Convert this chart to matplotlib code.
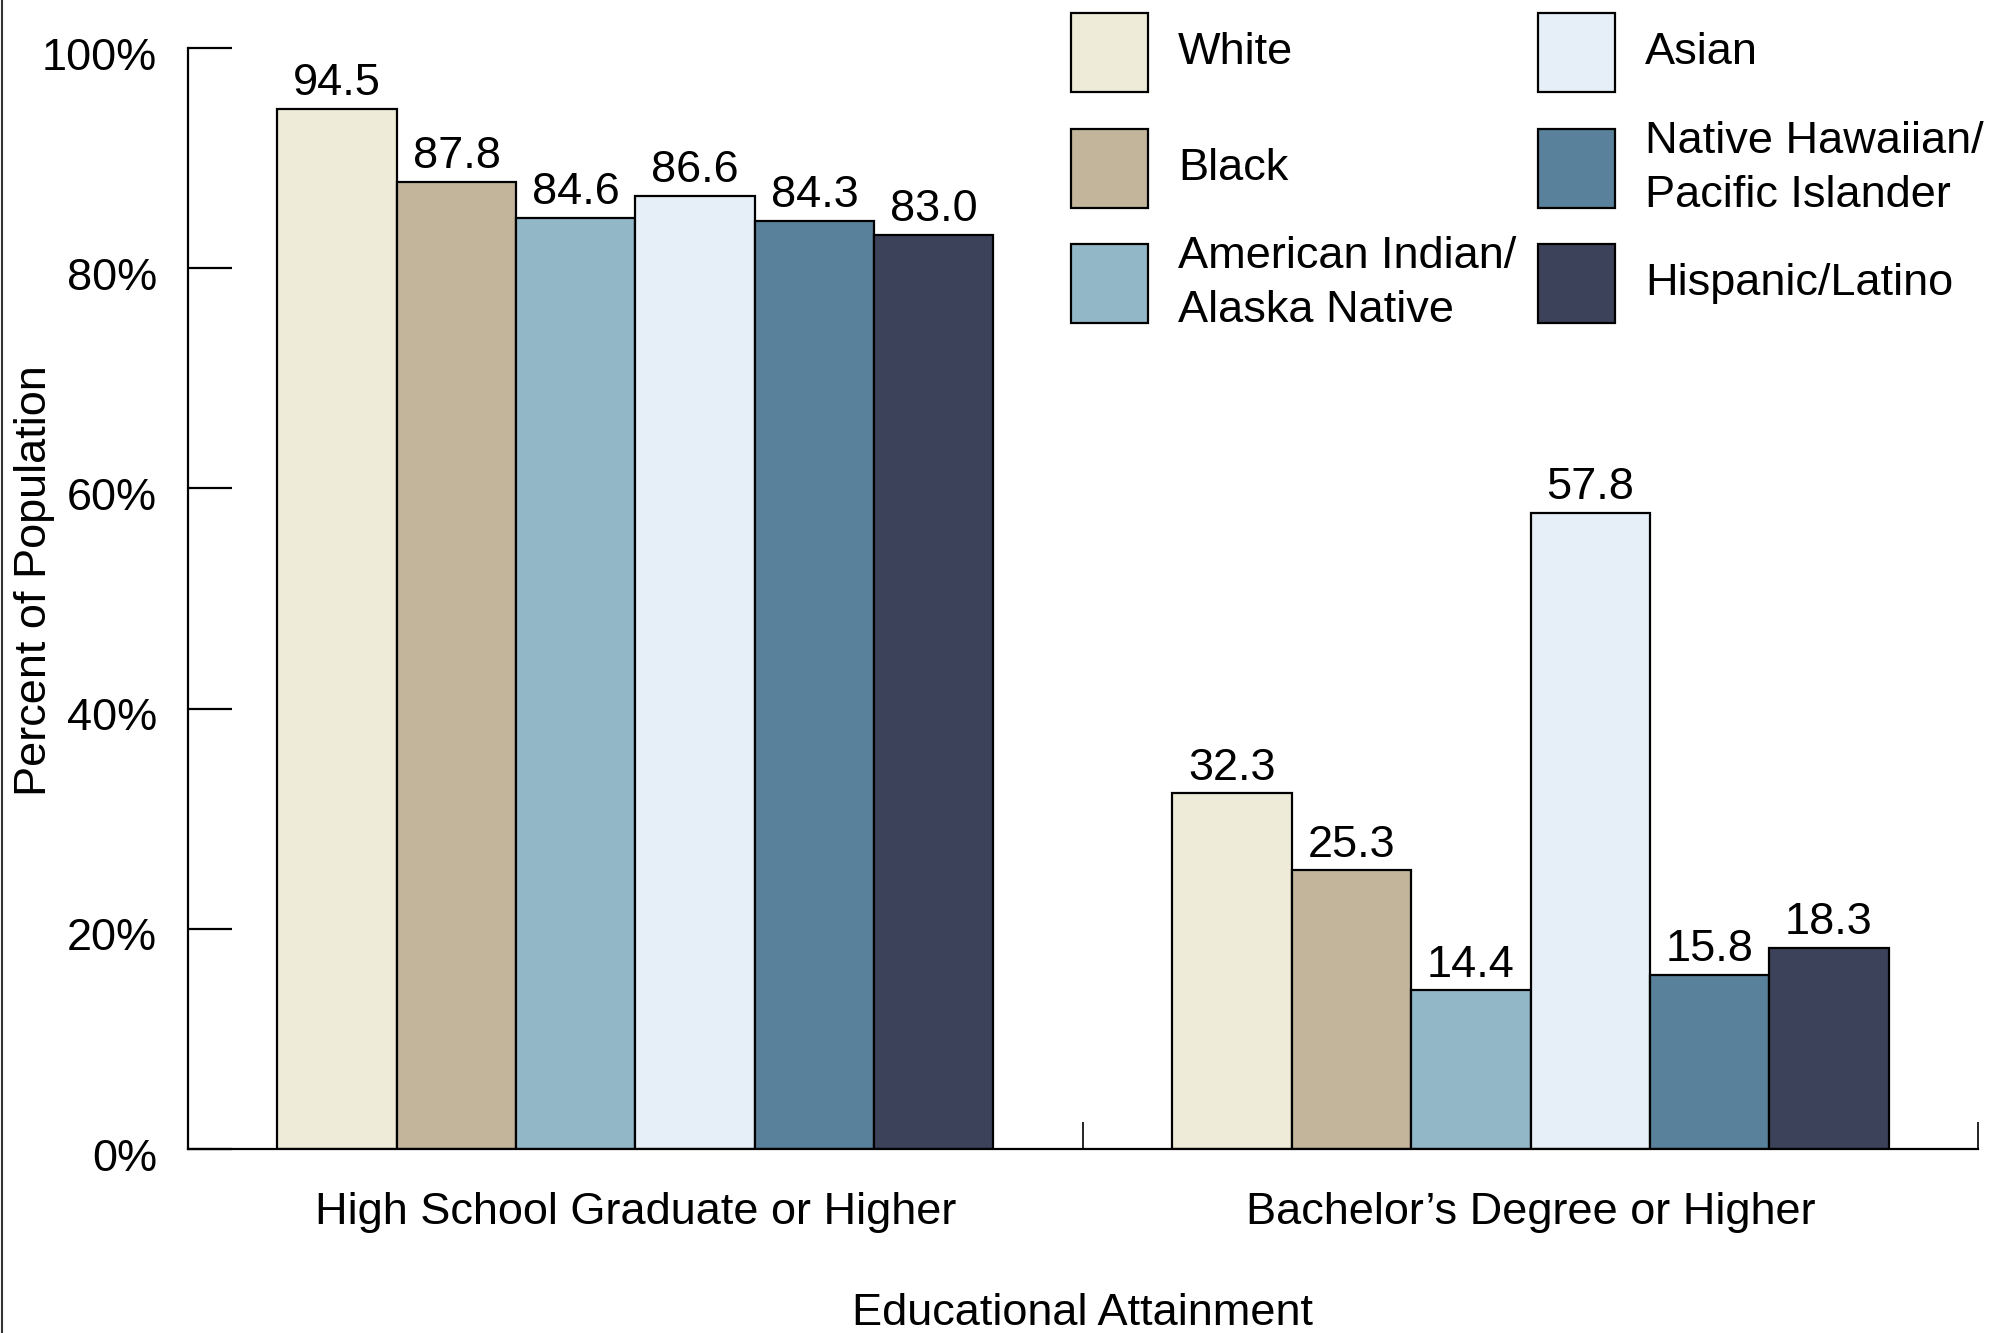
import numpy as np
import matplotlib
matplotlib.use("Agg")
import matplotlib.pyplot as plt
import matplotlib.transforms as mtransforms
from matplotlib.patches import Rectangle
from matplotlib.lines import Line2D

plt.rcParams["font.family"] = ["Liberation Sans", "DejaVu Sans"]

categories = ["High School Graduate or Higher", "Bachelor\u2019s Degree or Higher"]
groups = ["White", "Black", "American Indian/\nAlaska Native", "Asian",
          "Native Hawaiian/\nPacific Islander", "Hispanic/Latino"]
values = {
    "White": [94.5, 32.3],
    "Black": [87.8, 25.3],
    "American Indian/\nAlaska Native": [84.6, 14.4],
    "Asian": [86.6, 57.8],
    "Native Hawaiian/\nPacific Islander": [84.3, 15.8],
    "Hispanic/Latino": [83.0, 18.3],
}
colors = ["#EEEBD8", "#C2B59B", "#92B8C8", "#E6EFF7", "#5A819B", "#3C4259"]
yticks = [0, 20, 40, 60, 80, 100]

fs = 32.5
fig = plt.figure(figsize=(19.95, 13.33), dpi=100)
ax = fig.add_axes([0.0942, 0.138, 0.8973, 0.826])

x = np.arange(len(categories))
width = 0.8 / len(groups)
for i, g in enumerate(groups):
    pos = x - 0.4 + width * (i + 0.5)
    bars = ax.bar(pos, values[g], width, color=colors[i], edgecolor="black", linewidth=1.6)
    for b, v in zip(bars, values[g]):
        ax.annotate("{:.1f}".format(v), (b.get_x() + b.get_width() / 2, v),
                    xytext=(0, 3.5), textcoords="offset points",
                    ha="center", va="bottom", fontsize=fs)

ax.set_xlim(-0.5, 1.5)
ax.set_ylim(0, 100)
ax.spines["top"].set_visible(False)
ax.spines["right"].set_visible(False)
ax.spines["left"].set_linewidth(1.6)
ax.spines["bottom"].set_linewidth(1.6)

ax.set_yticks(yticks)
ax.set_yticklabels([f"{t}%" for t in yticks], fontsize=fs)
ax.tick_params(axis="y", direction="in", length=32, width=1.6, pad=22)
shift = mtransforms.ScaledTranslation(0, -4 / 72, fig.dpi_scale_trans)
for lbl in ax.get_yticklabels():
    lbl.set_transform(lbl.get_transform() + shift)

ax.set_xticks(x)
ax.set_xticklabels(categories, fontsize=fs)
ax.tick_params(axis="x", which="major", length=0, pad=31)
ax.set_xticks([0.5, 1.5], minor=True)
ax.tick_params(axis="x", which="minor", direction="in", length=19.5, width=1.2)

ax.set_xlabel("Educational Attainment", fontsize=fs, labelpad=43)
ax.set_ylabel("Percent of Population", fontsize=fs)
ax.yaxis.set_label_coords(-0.0745, 0.516)

# legend laid out by hand in a 3x2 grid
W, H = 1995, 1333
col_x = [1071, 1538]
row_top = [13, 129, 244]
pw, ph = 77, 79
for i, g in enumerate(groups):
    c, r = i // 3, i % 3
    x0 = col_x[c] / W
    y0 = 1 - (row_top[r] + ph) / H
    fig.add_artist(Rectangle((x0, y0), pw / W, ph / H, transform=fig.transFigure,
                             facecolor=colors[i], edgecolor="black", linewidth=1.6))
    fig.text((col_x[c] + pw + 30) / W, 1 - (row_top[r] + ph / 2) / H, g,
             ha="left", va="center", fontsize=fs, linespacing=1.38)

fig.add_artist(Line2D([0.0012, 0.0012], [0, 1], transform=fig.transFigure,
                      color="#333333", linewidth=1.5))

fig.savefig("out.png", dpi=100)
